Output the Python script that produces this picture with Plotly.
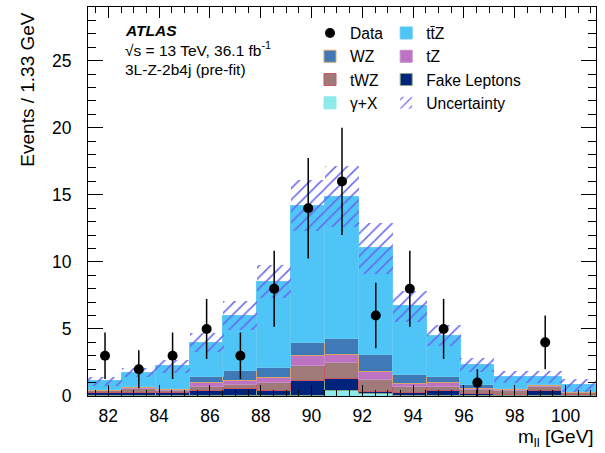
import numpy as np
import plotly.graph_objects as go

# Dilepton invariant mass bins (1.33 GeV wide)
bin_centers = [81.87, 83.2, 84.53, 85.87, 87.2, 88.53, 89.87, 91.2,
               92.53, 93.87, 95.2, 96.53, 97.87, 99.2, 100.53]
bin_width = 4.0 / 3.0

# Observed events per bin
data_counts = [3, 2, 3, 5, 3, 8, 14, 16, 6, 8, 5, 1, 0, 4, 0]

# Pre-fit background / signal predictions per bin
gamma_x = [0, 0, 0, 0, 0, 0, 0, 0.35, 0.15, 0, 0, 0, 0, 0, 0]
fake_leptons = [0.2, 0.25, 0.2, 0.4, 0.5, 0.4, 1.15, 0.9, 0.15, 0.2, 0.35, 0.15, 0.1, 0.35, 0.05]
twz = [0.15, 0.3, 0.15, 0.3, 0.35, 0.55, 1.09, 1.19, 0.89, 0.5, 0.35, 0.3, 0.25, 0.3, 0.15]
tz = [0.05, 0.05, 0.1, 0.3, 0.3, 0.37, 0.74, 0.62, 0.63, 0.2, 0.25, 0.1, 0.1, 0.1, 0.05]
wz = [0.05, 0.1, 0.1, 0.4, 0.7, 0.74, 0.95, 1.17, 1.24, 0.7, 0.5, 0.27, 0.05, 0.07, 0.05]
ttz = [0.65, 1.05, 1.65, 2.58, 4.15, 6.47, 10.25, 10.64, 7.96, 5.1, 3.05, 1.49, 0.94, 0.62, 0.5]

# Total systematic + statistical uncertainty on the prediction
uncertainty = [0.35, 0.35, 0.45, 0.7, 1.05, 1.25, 1.9, 2.3, 1.9, 1.15, 0.8, 0.5, 0.45, 0.45, 0.5]

FONT = "Liberation Sans, Arial, Helvetica, sans-serif"

# (name, values, fill, outline, legend, rank) from the bottom of the stack upwards
stack = [
    ("γ+X", gamma_x, "#8de9ea", "#8de9ea", "legend", 4),
    ("Fake Leptons", fake_leptons, "#00237b", "#86a88a", "legend2", 3),
    ("tWZ", twz, "#a07a78", "#c65565", "legend", 3),
    ("tZ", tz, "#bd72c2", "#c58cc8", "legend2", 2),
    ("WZ", wz, "#3f79b7", "#d8a36c", "legend", 2),
    ("tt\u0304Z", ttz, "#4ec4f7", "#62c8f4", "legend2", 1),
]

fig = go.Figure()

base = np.zeros(len(bin_centers))
for name, vals, fill, outline, leg, rank in stack:
    v = np.array(vals, dtype=float)
    heights = [h if h > 0 else None for h in v]
    fig.add_trace(go.Bar(
        x=bin_centers, y=heights, base=base.tolist(), width=bin_width,
        name=name, legend=leg, legendrank=rank,
        marker=dict(color=fill, line=dict(color=outline, width=1)),
        hoverinfo="skip",
    ))
    base = base + v

total = base
unc = np.array(uncertainty, dtype=float)
fig.add_trace(go.Bar(
    x=bin_centers, y=(2 * unc).tolist(), base=(total - unc).tolist(), width=bin_width,
    name="Uncertainty", legend="legend2", legendrank=4,
    marker=dict(
        color="rgba(0,0,0,0)", line=dict(width=0),
        pattern=dict(shape="/", fgcolor="#6868f0", bgcolor="rgba(0,0,0,0)",
                     size=8, solidity=0.19, fillmode="replace"),
    ),
    hoverinfo="skip",
))

counts = np.array(data_counts, dtype=float)
fig.add_trace(go.Scatter(
    x=bin_centers, y=[c if c > 0 else None for c in counts],
    mode="markers", name="Data", legend="legend", legendrank=1,
    marker=dict(color="black", size=10),
    error_y=dict(type="data", array=np.sqrt(counts).tolist(), width=0,
                 thickness=1.5, color="black"),
))

legend_style = dict(
    yanchor="top", xanchor="left", y=0.976,
    bgcolor="rgba(0,0,0,0)", borderwidth=0,
    font=dict(family=FONT, size=15.6, color="black"),
    itemwidth=30, tracegroupgap=0,
)

fig.update_layout(
    width=605, height=453,
    margin=dict(l=88, r=9, t=7, b=57),
    paper_bgcolor="white", plot_bgcolor="white",
    barmode="overlay", bargap=0,
    font=dict(family=FONT, size=16, color="black"),
    showlegend=True,
    legend=dict(x=0.437, **legend_style),
    legend2=dict(x=0.587, **legend_style),
)

fig.update_xaxes(
    range=[81.2, 101.2], tick0=82, dtick=2,
    ticks="inside", ticklen=11, tickwidth=1, tickcolor="black",
    showline=True, linecolor="black", linewidth=1.2, mirror="ticks",
    showgrid=False, zeroline=False,
    tickfont=dict(family=FONT, size=17.5, color="black"),
    ticklabelstandoff=4,
    minor=dict(ticks="inside", tick0=82, dtick=0.5, ticklen=6,
               tickwidth=1, tickcolor="black", showgrid=False),
)
fig.update_yaxes(
    range=[0, 29], tick0=0, dtick=5,
    ticks="inside", ticklen=15, tickwidth=1, tickcolor="black",
    showline=True, linecolor="black", linewidth=1.2, mirror="ticks",
    showgrid=False, zeroline=False,
    tickfont=dict(family=FONT, size=17.5, color="black"),
    ticklabelstandoff=12,
    minor=dict(ticks="inside", tick0=0, dtick=1, ticklen=7.5,
               tickwidth=1, tickcolor="black", showgrid=False),
)

annotations = [
    dict(text="<b><i>ATLAS</i></b>", x=0.069, y=0.9396),
    dict(text="√s = 13 TeV, 36.1 fb<sup>-1</sup>", x=0.069, y=0.892),
    dict(text="3L-Z-2b4j (pre-fit)", x=0.069, y=0.8406),
]
for a in annotations:
    fig.add_annotation(
        xref="paper", yref="paper", xanchor="left", yanchor="middle",
        showarrow=False, font=dict(family=FONT, size=15.5, color="black"), **a,
    )

fig.add_annotation(
    text="Events / 1.33 GeV", xref="paper", yref="paper",
    x=-0.118, y=0.992, xanchor="center", yanchor="top", textangle=-90,
    showarrow=False, font=dict(family=FONT, size=19, color="black"),
)
fig.add_annotation(
    text="m<sub>ll</sub> [GeV]", xref="paper", yref="paper",
    x=1.0, y=-0.108, xanchor="right", yanchor="middle",
    showarrow=False, font=dict(family=FONT, size=19, color="black"),
)

fig.write_html("out.html")
